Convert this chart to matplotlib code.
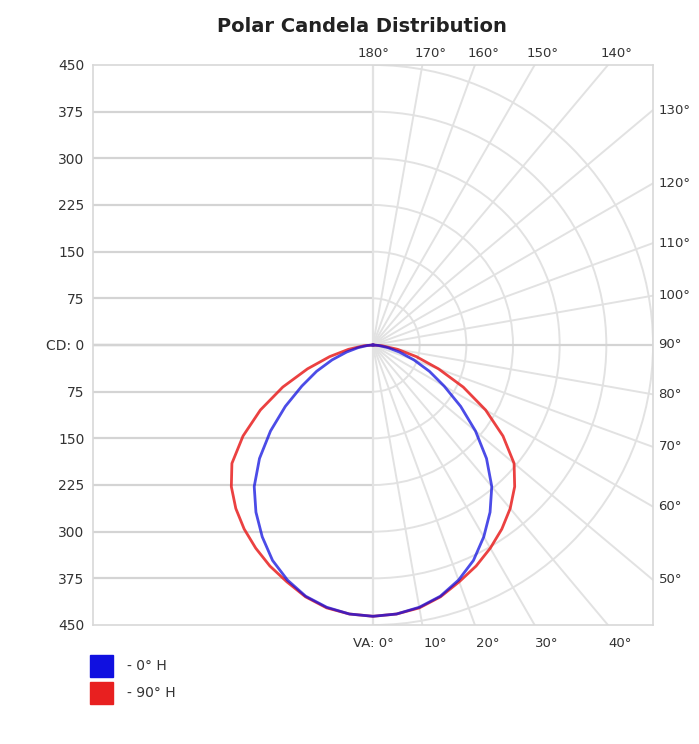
import numpy as np
import matplotlib
matplotlib.use("Agg")
import matplotlib.pyplot as plt
from matplotlib.patches import Arc, Rectangle

# Vertical angles (deg from nadir) and candela for the two horizontal planes
vertical_angles = [0, 5, 10, 15, 20, 25, 30, 35, 40, 45, 50, 55, 60, 65, 70, 75, 80, 85, 90]
cd_0h = [436, 434, 428, 418, 402, 382, 356, 328, 297, 258, 215, 172, 132, 100, 70, 44, 24, 9, 0]
cd_90h = [436, 434, 429, 419, 405, 392, 377, 361, 343, 322, 296, 255, 209, 160, 112, 72, 40, 15, 0]

series_labels = ["- 0° H", "- 90° H"]
series_colors = ["#1010e0", "#e82020"]

cd_ticks = [450, 375, 300, 225, 150, 75, 0, 75, 150, 225, 300, 375, 450]
ring_values = [75, 150, 225, 300, 375, 450]
radial_angles = list(range(0, 190, 10))
bottom_angles = [0, 10, 20, 30, 40]
right_angles = [50, 60, 70, 80, 90, 100, 110, 120, 130]
top_angles = [140, 150, 160, 170, 180]

RMAX = 450
W, H = 699, 744
fig = plt.figure(figsize=(W / 100, H / 100), dpi=100)
fig.patch.set_facecolor("white")
ax = fig.add_axes([93 / W, (H - 625) / H, 560 / W, 560 / H])
ax.set_xlim(-RMAX, RMAX)
ax.set_ylim(-RMAX, RMAX)
ax.set_facecolor("white")

grid_dark = "#d4d4d4"
grid_light = "#e2e2e2"

# left half: horizontal candela lines
for v in ring_values[:-1] + [0]:
    for s in (1, -1):
        ax.plot([-RMAX, 0], [s * v, s * v], color=grid_dark, lw=1.6, zorder=1,
                solid_capstyle="butt")

# right half: rings and radial lines
for v in ring_values:
    ax.add_patch(Arc((0, 0), 2 * v, 2 * v, theta1=-90, theta2=90,
                     color=grid_light, lw=1.4, zorder=1))
for a in radial_angles:
    t = np.radians(a)
    L = RMAX * 2
    ax.plot([0, L * np.sin(t)], [0, -L * np.cos(t)], color=grid_light, lw=1.4, zorder=1)
ax.plot([-RMAX, RMAX], [0, 0], color=grid_dark, lw=1.6, zorder=1)
ax.plot([0, 0], [-RMAX, RMAX], color=grid_light, lw=1.6, zorder=1)

# candela curves, mirrored about nadir
ang = np.radians(vertical_angles)
for vals, col, alpha in [(cd_90h, series_colors[1], 0.85), (cd_0h, series_colors[0], 0.75)]:
    r = np.array(vals, dtype=float)
    xr, yr = r * np.sin(ang), -r * np.cos(ang)
    x = np.concatenate([-xr[::-1], xr[1:]])
    y = np.concatenate([yr[::-1], yr[1:]])
    ax.plot(x, y, color=col, lw=2.0, alpha=alpha, zorder=3, solid_joinstyle="round")

# axes frame and ticks
for sp in ax.spines.values():
    sp.set_color("#d8d8d8")
    sp.set_linewidth(1.2)
ax.set_xticks([])
yt = np.linspace(RMAX, -RMAX, len(cd_ticks))
ax.set_yticks(yt)
ax.set_yticklabels(["CD: 0" if v == 0 else str(v) for v in cd_ticks])
ax.tick_params(axis="y", length=0, pad=6, labelsize=10, labelcolor="#333333")


def border_point(a):
    t = np.radians(a)
    dx, dy = np.sin(t), -np.cos(t)
    s = RMAX / max(abs(dx), abs(dy))
    return dx * s, dy * s


lab_kw = dict(textcoords="offset points", fontsize=9.5, color="#333333")
for a in bottom_angles:
    px, py = border_point(a)
    if a == 0:
        ax.annotate("VA: 0°", (px, py), xytext=(15, -13), ha="right", va="center", **lab_kw)
    else:
        ax.annotate(f"{a}°", (px, py), xytext=(9, -13), ha="center", va="center", **lab_kw)
for a in right_angles:
    px, py = border_point(a)
    ax.annotate(f"{a}°", (px, py), xytext=(4, 0), ha="left", va="center", **lab_kw)
for a in top_angles:
    px, py = border_point(a)
    ax.annotate(f"{a}°", (px, py), xytext=(6 if a != 180 else 0, 8), ha="center",
                va="center", **lab_kw)

fig.text(362 / W, 1 - 27 / H, "Polar Candela Distribution", ha="center", va="center",
         fontsize=14, fontweight="bold", color="#222222")

# legend swatches
for i, (lab, col) in enumerate(zip(series_labels, series_colors)):
    y0 = 655 + i * 27
    fig.add_artist(Rectangle((90 / W, 1 - (y0 + 22) / H), 23 / W, 22 / H,
                             transform=fig.transFigure, color=col))
    fig.text(127 / W, 1 - (y0 + 11) / H, lab, ha="left", va="center",
             fontsize=10, color="#333333")

fig.savefig("out.png", dpi=100)
